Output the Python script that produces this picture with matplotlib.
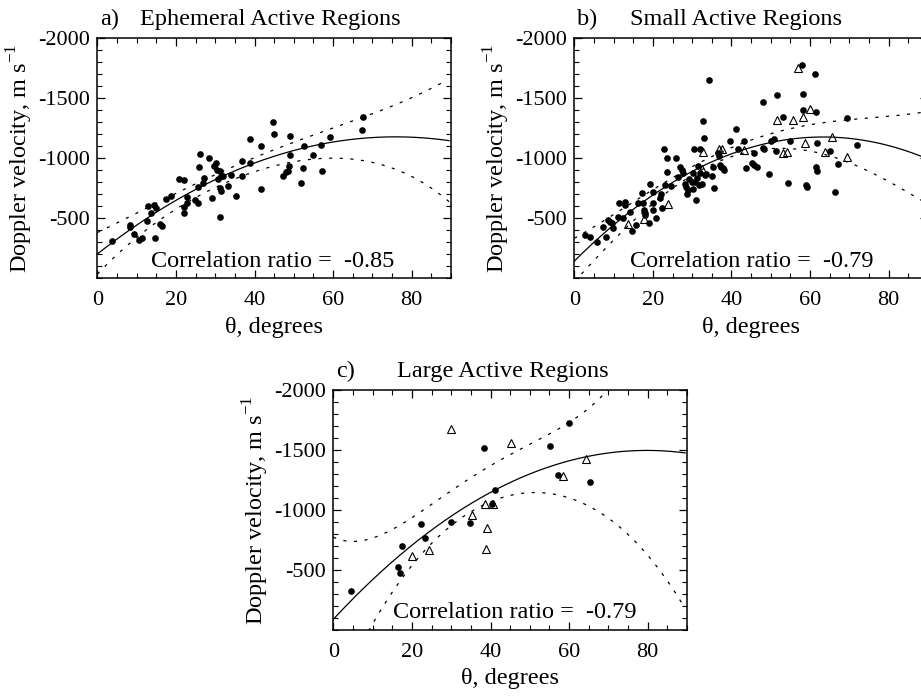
import numpy as np
import matplotlib
matplotlib.use("Agg")
import matplotlib.pyplot as plt
from matplotlib.ticker import MultipleLocator, FixedLocator

plt.rcParams['font.family'] = ['Liberation Serif', 'DejaVu Serif']
plt.rcParams['mathtext.fontset'] = 'custom'
plt.rcParams['mathtext.rm'] = 'Liberation Serif'
plt.rcParams['axes.unicode_minus'] = False

# ---- panel a: ephemeral active regions (filled circles)
a_theta = [3.7, 8.2, 8.3, 9.4, 10.6, 11.5, 12.7, 13.0, 13.7, 14.4, 14.9, 14.8, 15.9, 16.5,
           17.5, 18.7, 20.8, 22.1, 22.0, 22.1, 22.7, 22.9, 24.9, 25.5, 25.7, 26.0, 26.1,
           27.0, 27.2, 28.5, 29.3, 29.7, 30.2, 30.4, 30.6, 31.2, 31.2, 31.6, 31.4, 31.3,
           32.1, 33.3, 33.9, 35.2, 36.8, 36.9, 38.9, 38.9, 41.7, 41.7, 44.8, 45.0, 47.2,
           48.0, 48.5, 48.9, 49.1, 49.1, 51.8, 52.4, 52.7, 54.8, 57.1, 57.0, 59.2, 67.4, 67.7]
a_vel = [-313, -444, -425, -369, -319, -333, -477, -602, -541, -611, -588, -333, -450, -439,
         -661, -686, -825, -819, -547, -597, -625, -680, -652, -630, -758, -925, -1036,
         -797, -839, -1000, -666, -936, -964, -903, -828, -897, -755, -725, -855, -508,
         -855, -769, -861, -689, -978, -855, -958, -1161, -1103, -741, -1303, -1200, -853,
         -889, -894, -939, -1028, -1189, -797, -917, -1105, -1025, -894, -1111, -1175, -1236, -1347]

# ---- panel b: small active regions
b_theta = [2.6, 4.0, 5.7, 7.2, 8.0, 8.7, 9.2, 9.8, 9.7, 11.0, 11.4, 12.9, 12.9, 12.5, 14.2,
           14.6, 15.7, 16.1, 17.3, 17.6, 17.8, 18.0, 18.0, 19.1, 19.3, 19.9, 20.1, 20.1,
           20.7, 21.8, 22.1, 22.2, 22.9, 23.1, 23.5, 23.7, 24.6, 26.0, 26.3, 26.9, 27.3,
           27.7, 28.2, 28.4, 28.8, 29.0, 29.2, 29.9, 30.3, 30.5, 30.3, 30.7, 30.9, 31.1,
           31.6, 31.7, 32.1, 32.1, 32.6, 32.7, 33.0, 33.2, 33.6, 34.3, 35.0, 35.4, 35.5,
           36.6, 36.8, 37.1, 37.3, 37.8, 38.2, 39.6, 41.2, 41.7, 43.3, 43.7, 45.1, 45.6,
           45.8, 46.4, 48.1, 48.3, 48.1, 49.6, 50.1, 50.8, 51.3, 51.5, 53.2, 54.5, 55.0,
           58.3, 58.1, 58.0, 59.0, 59.3, 61.2, 61.5, 61.5, 61.7, 61.7, 65.1, 66.3, 67.0,
           69.3, 72.0]
b_vel = [-361, -341, -302, -430, -347, -486, -472, -422, -463, -513, -630, -639, -611, -505, -555,
         -397, -444, -630, -708, -625, -569, -541, -527, -458, -783, -625, -569, -716,
         -505, -666, -702, -588, -1075, -777, -889, -1000, -769, -1000, -847, -925, -903,
         -880, -786, -763, -702, -736, -828, -805, -875, -1075, -741, -800, -653, -833,
         -936, -777, -1075, -875, -783, -1314, -1166, -861, -866, -1652, -855, -930, -750,
         -1047, -1019, -944, -930, -916, -903, -1144, -1244, -1075, -1144, -922, -964, -1041,
         -944, -925, -1472, -1075, -1089, -869, -1144, -1158, -1064, -1527, -1341, -791, -1144,
         -1533, -1402, -1777, -777, -763, -1700, -1383, -930, -894, -1125, -1064, -716, -953,
         -1333, -1111]
b_tri_theta = [13.6, 17.8, 23.9, 32.4, 32.8, 36.9, 37.5, 43.2, 51.7, 53.0, 54.2, 55.7,
               57.0, 58.3, 58.7, 60.0, 63.8, 65.5, 69.3]
b_tri_vel = [-450, -491, -619, -908, -1055, -1078, -1078, -1069, -1319, -1041, -1053, -1319,
             -1750, -1341, -1125, -1408, -1050, -1180, -1014]

# ---- panel c: large active regions
c_theta = [4.4, 16.5, 17.0, 17.4, 22.3, 23.3, 29.9, 34.8, 38.4, 40.5, 41.1, 55.1, 57.3, 60.1, 65.3]
c_vel = [-328, -522, -478, -700, -881, -764, -903, -889, -1520, -1047, -1167, -1536, -1292, -1722, -1231]
c_tri_theta = [29.9, 19.9, 24.3, 35.2, 38.6, 40.7, 39.2, 38.8, 45.2, 58.5, 64.2]
c_tri_vel = [-1675, -617, -667, -958, -1047, -1047, -847, -672, -1556, -1286, -1422]

# ---- fit curves and confidence curves
a_fit_x = [0, 7.9, 19.8, 33.3, 45.2, 56.7, 66.8, 77.0, 88.5]
a_fit_y = [-210, -369, -670, -875, -1013, -1117, -1158, -1175, -1158]
a_up_x = [2.8, 12.1, 24.0, 30.0, 41.4, 58.4, 69.4, 79.6, 88.5]
a_up_y = [-430, -569, -763, -880, -1027, -1222, -1361, -1513, -1638]
a_lo_x = [2.0, 12.0, 20.0, 30.0, 41.4, 54.1, 60.9, 69.4, 77.9, 87.6]
a_lo_y = [-95, -410, -570, -750, -888, -1013, -1008, -958, -875, -694]

b_fit_x = [0, 8.4, 21.1, 37.3, 65.5, 79.9, 88.2]
b_fit_y = [-139, -417, -694, -1014, -1175, -1111, -1014]
b_up_x = [0, 3.6, 11.0, 20.0, 30.0, 39.2, 48.5, 61.2, 69.7, 78.2, 87.9]
b_up_y = [-324, -430, -520, -740, -950, -1083, -1180, -1269, -1333, -1352, -1375]
b_lo_x = [3.2, 6.3, 10.9, 20.0, 30.0, 37.5, 46.0, 54.5, 61.2, 69.7, 78.2, 87.9]
b_lo_y = [-75, -194, -361, -640, -840, -958, -1075, -1097, -1069, -958, -819, -667]

c_fit_x = [0, 16.1, 24.6, 41.6, 58.5, 79.7, 88.6]
c_fit_y = [-97, -597, -806, -1181, -1408, -1492, -1478]
c_up_x = [0, 7.6, 16.1, 22.1, 33.1, 41.6, 50.0, 58.5, 63.6, 69.6]
c_up_y = [-758, -786, -847, -950, -1236, -1417, -1556, -1681, -1806, -2000]
c_lo_x = [9.8, 16.1, 24.6, 33.1, 41.6, 50.0, 58.5, 67.0, 75.5, 83.9, 88.6]
c_lo_y = [0, -444, -694, -917, -1069, -1139, -1153, -1028, -750, -417, -264]

x_ticks = [0, 20, 40, 60, 80]
y_ticks = [-2000, -1500, -1000, -500]
FS = 17.5
TFS = 16


def smooth(xs, ys, deg, x0, x1):
    p = np.polyfit(xs, ys, deg)
    xx = np.linspace(x0, x1, 300)
    return xx, np.polyval(p, xx)


def panel(ax, letter, title, corr, dots, tris, fit, up, lo, up_end=89.0, lo_start=0.0):
    ax.set_xlim(0, 90)
    ax.set_ylim(0, -2000)
    ax.plot(dots[0], dots[1], 'o', color='k', ms=4.8, mew=0, zorder=3)
    if tris is not None:
        ax.plot(tris[0], tris[1], '^', mfc='none', mec='k', ms=5.5, mew=0.8, zorder=3)
    xx, yy = smooth(fit[0], fit[1], 2, 0, 89.5)
    ax.plot(xx, yy, '-', color='k', lw=0.9)
    xx, yy = smooth(up[0], up[1], 4, 0, up_end)
    ax.plot(xx, yy, color='k', lw=0.9, ls=(0, (2.5, 6)))
    xx, yy = smooth(lo[0], lo[1], 4, lo_start, 89.5)
    ax.plot(xx, yy, color='k', lw=0.9, ls=(0, (2.5, 6)))

    ax.xaxis.set_major_locator(FixedLocator(x_ticks))
    ax.xaxis.set_minor_locator(MultipleLocator(5))
    ax.yaxis.set_major_locator(FixedLocator(y_ticks))
    ax.yaxis.set_minor_locator(MultipleLocator(100))
    ax.set_xticklabels([str(t) for t in x_ticks])
    ax.set_yticklabels([str(t) for t in y_ticks])
    ax.tick_params(which='both', direction='in', top=True, right=True, labelsize=TFS)
    ax.tick_params(which='major', length=6, width=0.9)
    ax.tick_params(which='minor', length=3.5, width=0.8)
    ax.tick_params(axis='x', pad=9)
    ax.tick_params(axis='y', pad=5)
    for s in ax.spines.values():
        s.set_linewidth(1.1)

    ax.text(0.008, 1.055, letter, transform=ax.transAxes, fontsize=FS, va='baseline')
    ax.text(title[1], 1.055, title[0], transform=ax.transAxes, fontsize=FS, va='baseline')
    ax.text(corr[1], 0.048, corr[0], transform=ax.transAxes, fontsize=FS, va='baseline')
    ax.text(0.5, -0.203, 'θ, degrees', transform=ax.transAxes, fontsize=FS,
            ha='center', va='center')
    ax.text(-0.22, 0.5, 'Doppler velocity, m s$^{-1}$', transform=ax.transAxes,
            fontsize=FS, ha='center', va='center', rotation=90)


fig = plt.figure(figsize=(9.21, 6.99), dpi=100)
ax_a = fig.add_axes([0.10565, 0.60186, 0.38404, 0.34335])
ax_b = fig.add_axes([0.62356, 0.60186, 0.38404, 0.34335])
ax_c = fig.add_axes([0.36189, 0.09871, 0.38404, 0.34335])

panel(ax_a, 'a)', ('Ephemeral Active Regions', 0.121), ('Correlation ratio =  -0.85', 0.152),
      (a_theta, a_vel), None, (a_fit_x, a_fit_y), (a_up_x, a_up_y), (a_lo_x, a_lo_y))
panel(ax_b, 'b)', ('Small Active Regions', 0.157), ('Correlation ratio =  -0.79', 0.157),
      (b_theta, b_vel), (b_tri_theta, b_tri_vel), (b_fit_x, b_fit_y),
      (b_up_x, b_up_y), (b_lo_x, b_lo_y))
panel(ax_c, 'c)', ('Large Active Regions', 0.18), ('Correlation ratio =  -0.79', 0.168),
      (c_theta, c_vel), (c_tri_theta, c_tri_vel), (c_fit_x, c_fit_y),
      (c_up_x, c_up_y), (c_lo_x, c_lo_y), up_end=72.0, lo_start=9.0)

fig.savefig('out.png', dpi=100)
